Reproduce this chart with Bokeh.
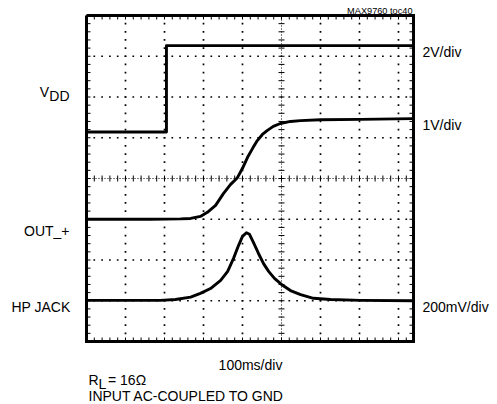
import numpy as np
from bokeh.plotting import figure
from bokeh.models import Range1d, Label
from bokeh.embed import file_html
from bokeh.resources import INLINE

# ---- data (time in ms, trace position in screen divisions from centre) ----
vdd_t = [0, 205, 205, 838]
vdd_y = [1.14, 1.14, 3.26, 3.26]

out_t = [0, 164, 241, 267, 292, 310, 331, 351, 369, 387, 400, 413, 426, 438,
         451, 464, 479, 497, 523, 549, 600, 703, 838]
out_y = [-1.00, -1.00, -0.99, -0.98, -0.93, -0.83, -0.66, -0.37, -0.15, 0.02,
         0.25, 0.52, 0.74, 0.93, 1.08, 1.18, 1.28, 1.35, 1.40, 1.42, 1.44,
         1.45, 1.47]

hp_t = [0, 190, 228, 267, 292, 318, 344, 362, 377, 390, 400, 410, 418, 428,
        441, 454, 467, 482, 500, 523, 549, 582, 626, 703, 838]
hp_y = [-2.99, -2.99, -2.97, -2.91, -2.82, -2.70, -2.50, -2.28, -1.96, -1.64,
        -1.42, -1.33, -1.37, -1.57, -1.84, -2.09, -2.28, -2.45, -2.60, -2.75,
        -2.85, -2.94, -2.97, -2.99, -3.00]

x_grid = [100, 200, 300, 400, 500, 600, 700, 800]
y_grid = [-3, -2, -1, 0, 1, 2, 3]
x_centre = 500
y_centre = 0
t_end = 838.5          # visible sweep (ms)
y_top, y_bot = 4, -4   # screen divisions

FONT = "Liberation Sans"

W, H = 497, 404
FL, FT, FR, FB = 86, 15, 413, 341            # scope frame in page pixels
kx = (FR - FL) / t_end                       # px per ms
ky = (FB - FT) / (y_top - y_bot)             # px per division
p = figure(width=W, height=H, output_backend="svg", toolbar_location=None,
           x_range=Range1d(-FL / kx, t_end + (W - FR) / kx),
           y_range=Range1d(y_bot - (H - FB) / ky, y_top + FT / ky),
           x_axis_location=None, y_axis_location=None,
           min_border=0)
p.grid.visible = False
p.outline_line_color = None
p.background_fill_color = "white"
p.border_fill_color = "white"

# grid dots
dx, dy = [], []
for gx in x_grid:
    if gx == x_centre:
        continue
    ys = np.arange(y_bot, y_top + 0.001, 0.2)
    dx += [gx] * len(ys); dy += list(ys)
for gy in y_grid:
    if gy == y_centre:
        continue
    xs = np.arange(0, t_end, 20)
    dx += list(xs); dy += [gy] * len(xs)
p.scatter(dx, dy, marker="square", size=1.7, color="black", line_width=0)

# centre axes
p.line([0, t_end], [y_centre, y_centre], line_color="black", line_width=1, line_dash="1 2")
p.line([x_centre, x_centre], [y_bot, y_top], line_color="black", line_width=1, line_dash="1 2")
cx = list(np.arange(0, t_end, 20))
p.scatter(cx, [y_centre] * len(cx), marker="dash", angle=np.pi / 2, size=6, line_color="black", line_width=1)
cy = list(np.arange(y_bot, y_top + 0.001, 0.2))
p.scatter([x_centre] * len(cy), cy, marker="dash", size=6, line_color="black", line_width=1)

# border ticks (pointing inward, 4 px)
bx = list(np.arange(0, t_end, 20))
off_y = 2 / ky
off_x = 2 / kx
p.scatter(bx, [y_top - off_y] * len(bx), marker="dash", angle=np.pi / 2, size=4, line_color="black", line_width=1)
p.scatter(bx, [y_bot + off_y] * len(bx), marker="dash", angle=np.pi / 2, size=4, line_color="black", line_width=1)
p.scatter([off_x] * len(cy), cy, marker="dash", size=4, line_color="black", line_width=1)
p.scatter([t_end - off_x] * len(cy), cy, marker="dash", size=4, line_color="black", line_width=1)

# traces
for t, y in ((vdd_t, vdd_y), (out_t, out_y), (hp_t, hp_y)):
    p.line(t, y, line_color="black", line_width=2.9, line_join="round")

# scope frame
p.line([0, t_end, t_end, 0, 0], [y_top, y_top, y_bot, y_bot, y_top],
       line_color="black", line_width=3, line_join="miter")


def lab(txt, px, py, size, align="left"):
    p.add_layout(Label(x=(px - FL) / kx, y=y_top - (py - FT) / ky, text=txt,
                       text_font=FONT, text_font_size=f"{size}px", text_color="black",
                       text_align=align, text_baseline="alphabetic"))


FS = 14
lab("MAX9760 toc40", 412, 10, 9.2, "right")
lab("2V/div", 422, 51, FS)
lab("1V/div", 422, 124, FS)
lab("200mV/div", 422, 306, FS)
lab("V", 48.5, 91, FS, "right")
lab("DD", 69, 95, FS, "right")
lab("OUT_+", 69, 230, FS, "right")
lab("HP JACK", 70, 306, FS, "right")
lab("100ms/div", 250, 364, FS, "center")
lab("R", 88, 379, FS)
lab("L", 98, 383, FS)
lab("= 16Ω", 107.5, 379, FS)
lab("INPUT AC-COUPLED TO GND", 88, 395, FS)

open("out.html", "w").write(file_html(p, INLINE))
